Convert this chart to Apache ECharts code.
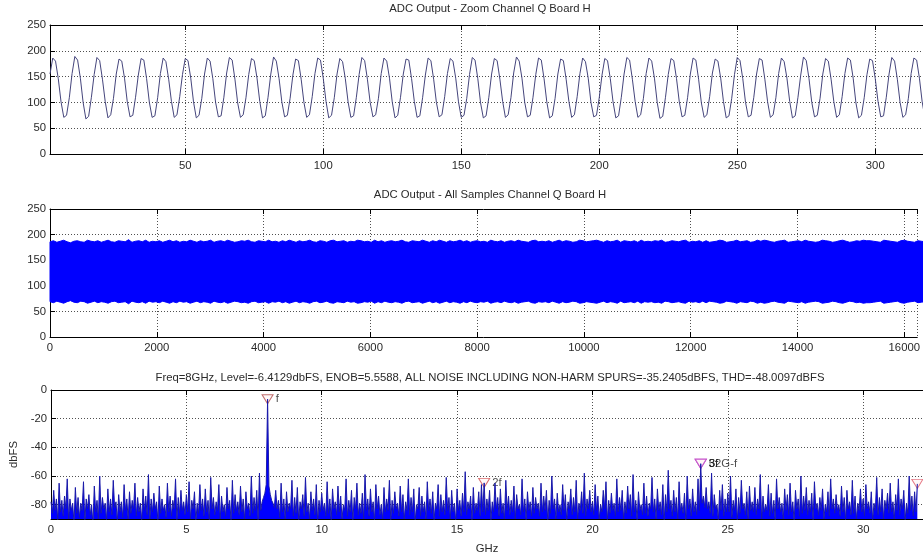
<!DOCTYPE html>
<html>
<head>
<meta charset="utf-8">
<script src="https://cdn.jsdelivr.net/npm/echarts@6/dist/echarts.min.js"></script>
<style>
  html, body { margin: 0; padding: 0; background: #fff; }
  #chart { width: 923px; height: 557px; }
</style>
</head>
<body>
<div id="chart"></div>
<script>
// ---- Zoomed time trace: samples 1..320 of channel Q ----
const zoomSamples = [
  155,186,180,146,101,71,75,109, 156,189,182,147,100,68,73,110,
  154,187,181,145,102,70,76,108, 155,184,180,147,101,72,75,110,
  153,185,182,146,100,71,74,109, 156,186,179,145,102,71,76,111,
  154,185,181,147,101,70,75,108, 155,186,180,146,100,72,74,110,
  157,187,182,145,99,71,76,109,  154,185,181,147,102,70,74,110,
  155,188,180,146,101,72,75,108, 153,184,181,145,100,71,76,111,
  156,186,182,147,102,70,75,109, 155,185,179,146,101,71,74,110,
  154,187,181,145,100,72,76,108, 156,186,180,147,101,70,75,110,
  155,184,182,146,102,71,74,109, 153,186,181,145,100,72,76,111,
  156,185,180,147,101,71,75,108, 154,187,182,146,99,70,74,110,
  155,185,181,145,102,71,76,109, 157,188,180,147,100,72,75,110,
  154,186,182,146,101,70,74,108, 155,184,181,145,102,71,76,111,
  156,186,179,147,100,72,75,109, 153,185,181,146,101,70,74,110,
  155,187,182,145,102,71,76,108, 156,186,180,147,100,69,73,110,
  154,185,181,146,101,72,75,109, 155,186,182,145,99,71,76,111,
  157,184,180,147,102,70,74,108, 154,187,181,146,100,72,75,110,
  155,185,182,145,101,71,76,109, 156,186,179,147,102,70,74,110,
  153,188,181,146,100,72,75,108, 155,185,180,145,101,71,76,111,
  156,186,182,147,99,70,75,109,  154,184,181,146,102,72,74,110,
  155,187,180,145,100,71,76,108, 156,186,182,147,101,70,75,110
];

// ---- All 16384 samples, as max/min envelope every 64 samples ----
const envelopeStep = 64;
const envelopeHigh = [
  186,188,185,187,189,186,184,187,188,186,185,189,187,186,188,185,
  187,189,186,185,188,187,186,190,185,187,188,186,189,185,187,186,
  188,185,187,189,186,188,185,187,186,189,187,185,188,186,187,189,
  185,187,188,186,189,187,185,186,188,187,189,186,185,188,187,186,
  189,186,187,185,188,186,189,187,185,188,186,187,189,186,185,188,
  187,185,188,189,186,187,188,185,187,186,189,188,186,187,185,189,
  186,188,185,187,188,186,187,189,186,185,188,187,186,189,187,185,
  188,186,189,187,185,188,186,187,189,186,188,185,187,188,186,187,
  185,189,187,186,188,185,187,188,186,189,187,186,185,188,189,186,
  187,186,188,185,187,189,186,188,187,185,186,189,188,186,187,188,
  189,187,185,188,186,187,189,185,188,187,186,188,185,189,186,187,
  186,188,187,189,185,186,188,187,186,188,189,185,187,186,188,185,
  188,185,186,187,189,188,185,186,187,189,186,187,188,185,186,189,
  187,189,188,186,185,187,188,189,185,186,187,188,186,189,187,186,
  185,186,189,188,187,185,186,188,189,187,185,186,188,187,189,188,
  188,187,186,185,189,188,187,186,185,188,189,187,186,185,188,187,
  186
];
const envelopeLow = [
  69,67,70,68,66,69,71,68,67,70,69,66,68,70,67,69,
  68,66,69,70,67,68,69,65,70,68,67,69,66,70,68,69,
  67,70,68,66,69,67,70,68,69,66,68,70,67,69,68,66,
  70,68,67,69,66,68,70,69,67,68,66,69,70,67,68,69,
  66,69,68,70,67,69,66,68,70,67,69,68,66,69,70,67,
  68,70,67,66,69,68,67,70,68,69,66,67,69,68,70,66,
  69,67,70,68,67,69,68,66,69,70,67,68,69,66,68,70,
  67,69,66,68,70,67,69,68,66,69,67,70,68,67,69,68,
  70,66,68,69,67,70,68,67,69,66,68,69,70,67,66,69,
  68,69,67,70,68,66,69,67,68,70,69,66,67,69,68,67,
  66,68,70,67,69,68,66,70,67,68,69,67,70,66,69,68,
  69,67,68,66,70,69,67,68,69,67,66,70,68,69,67,70,
  67,70,69,68,66,67,70,69,68,66,69,68,67,70,69,66,
  68,66,67,69,70,68,67,66,70,69,68,67,69,66,68,69,
  70,69,66,67,68,70,69,67,66,68,70,69,67,68,66,67,
  67,68,69,70,66,67,68,69,70,67,66,68,69,70,67,68,
  69
];

// ---- Spectrum, dBFS, 0.05 GHz bins from 0 to 32 GHz ----
const binGHz = 0.05;
const spectrumDb = [
  -78,-86,-70,-84,-76,-91,-65,-85,-77,-88,-74,-83,-62,-90,-76,-84,-79,-93,-68,-86,
  -75,-89,-79,-84,-64,-92,-76,-83,-73,-87,-80,-94,-67,-85,-77,-90,-60,-86,-75,-83,
  -79,-91,-69,-85,-76,-87,-63,-82,-78,-92,-73,-85,-78,-89,-66,-84,-76,-90,-71,-86,
  -77,-83,-65,-88,-75,-85,-79,-91,-69,-84,-74,-87,-59,-90,-76,-85,-72,-83,-78,-92,
  -67,-86,-76,-84,-80,-89,-65,-85,-74,-88,-77,-83,-62,-91,-75,-86,-70,-84,-78,-87,
  -73,-85,-64,-90,-77,-83,-71,-92,-79,-86,-66,-84,-76,-88,-69,-85,-77,-91,-61,-83,
  -75,-87,-78,-84,-66,-90,-74,-85,-80,-88,-68,-83,-77,-91,-63,-86,-73,-84,-78,-87,
  -67,-85,-76,-90,-71,-83,-79,-88,-60,-86,-75,-84,-70,-91,-58,-84,-78,-75,-72,-66,
  -6.4129,-67,-73,-77,-79,-82,-70,-83,-77,-89,-65,-85,-76,-90,-71,-85,-79,-83,-63,-88,
  -75,-86,-68,-91,-78,-83,-73,-88,-61,-85,-79,-90,-71,-84,-76,-87,-66,-92,-77,-85,
  -72,-84,-79,-88,-64,-86,-76,-91,-69,-83,-78,-87,-67,-85,-74,-90,-80,-84,-62,-88,
  -77,-85,-70,-92,-75,-83,-65,-87,-79,-86,-72,-90,-59,-84,-76,-88,-69,-85,-78,-91,
  -66,-83,-74,-87,-80,-90,-68,-85,-76,-84,-63,-91,-77,-86,-71,-83,-79,-88,-67,-85,
  -73,-90,-78,-84,-62,-87,-75,-85,-69,-92,-80,-83,-68,-88,-74,-85,-78,-90,-64,-84,
  -76,-86,-71,-91,-79,-83,-66,-88,-73,-85,-77,-87,-61,-84,-75,-90,-70,-85,-79,-92,
  -69,-84,-77,-88,-72,-85,-57,-87,-78,-83,-74,-91,-68,-86,-79,-84,-71,-88,-66,-85,
  -64.8,-87,-76,-84,-70,-91,-78,-85,-65,-83,-75,-88,-69,-86,-79,-90,-63,-84,-74,-87,
  -77,-85,-67,-90,-73,-83,-80,-87,-62,-85,-76,-91,-71,-84,-78,-88,-68,-86,-75,-83,
  -79,-88,-65,-85,-74,-84,-70,-92,-77,-86,-60,-83,-76,-90,-72,-85,-80,-87,-66,-84,
  -73,-91,-78,-83,-69,-87,-75,-85,-63,-90,-79,-84,-71,-86,-58,-88,-76,-83,-70,-85,
  -78,-87,-66,-84,-74,-90,-80,-85,-70,-83,-64,-91,-77,-86,-72,-84,-79,-88,-62,-85,
  -75,-84,-70,-90,-78,-86,-67,-83,-73,-88,-59,-85,-77,-91,-71,-84,-80,-87,-65,-86,
  -74,-88,-79,-83,-61,-85,-76,-90,-69,-84,-78,-87,-66,-91,-73,-85,-56,-83,-77,-88,
  -70,-85,-75,-90,-64,-84,-79,-86,-72,-92,-60,-83,-76,-88,-69,-85,-78,-87,-62,-84,
  -51.4,-79,-74,-82,-68,-83,-78,-86,-58,-88,-73,-83,-80,-91,-70,-84,-66,-88,-76,-85,
  -72,-85,-60,-89,-77,-84,-69,-91,-75,-86,-63,-83,-79,-87,-71,-90,-67,-84,-78,-85,
  -68,-87,-76,-83,-59,-90,-74,-85,-80,-84,-66,-88,-72,-86,-77,-91,-62,-83,-75,-85,
  -79,-90,-69,-84,-73,-87,-65,-85,-78,-92,-70,-83,-76,-88,-60,-86,-74,-84,-68,-87,
  -77,-85,-72,-91,-64,-83,-79,-87,-75,-84,-69,-90,-80,-85,-71,-88,-62,-83,-76,-86,
  -73,-84,-80,-88,-67,-85,-75,-91,-70,-83,-78,-87,-63,-86,-74,-90,-79,-84,-69,-85,
  -76,-88,-66,-83,-78,-86,-71,-91,-79,-84,-61,-87,-75,-85,-69,-90,-77,-83,-72,-86,
  -65,-85,-78,-90,-73,-84,-62,-87,-76,-83,-70,-91,-79,-86,-60,-84,-74,-88,-71,-85,
  -65.5
];

// ---- Harmonic / spur markers ----
const spurLabels = ['f', '2f', '3f', '5f', '32G-f', '4f'];
const spurGHz    = [8, 16, 24, 24, 24, 32];
const spurDb     = [-6.4129, -64.8, -51.4, -51.4, -51.4, -65.5];
const spurColors = ['#b04a4a', '#d04848', '#c048c8', '#c048c8', '#c048c8', '#e05a6a'];

// ---- Panel titles ----
const titles = [
  'ADC Output - Zoom Channel Q Board H',
  'ADC Output - All Samples Channel Q Board H',
  'Freq=8GHz, Level=-6.4129dbFS, ENOB=5.5588, ALL NOISE INCLUDING NON-HARM SPURS=-35.2405dBFS, THD=-48.0097dBFS'
];

const FONT = '"Liberation Sans", Arial, sans-serif';
const FS = 11.3;
const TXT = '#2a2a2a';
const GRIDLINE = { show: true, lineStyle: { color: '#505050', width: 1, type: [1, 2] } };
const plainNumber = v => String(v);

// plot boxes run on past the right edge of the page; the axes are cut there
const grids = [
  { left: 50, top: 25,  width: 873, height: 129 },
  { left: 50, top: 209, width: 873, height: 128 },
  { left: 50, top: 390, width: 873, height: 129 }
];

function labelStyle(extra) {
  return Object.assign({ color: TXT, fontFamily: FONT, fontSize: FS, formatter: plainNumber }, extra);
}
function bottomX(gi, extra) {
  return Object.assign({
    type: 'value', gridIndex: gi, position: 'bottom',
    axisLine: { show: true, onZero: false, lineStyle: { color: '#000', width: 1 } },
    axisTick: { show: true, inside: true, length: 5, lineStyle: { color: '#000' } },
    axisLabel: labelStyle({ margin: 5, showMaxLabel: false }),
    splitLine: GRIDLINE
  }, extra);
}
function topX(gi, extra) {
  return Object.assign({
    type: 'value', gridIndex: gi, position: 'top',
    axisLine: { show: true, onZero: false, lineStyle: { color: '#000', width: 1 } },
    axisTick: { show: true, inside: true, length: 5, lineStyle: { color: '#000' } },
    axisLabel: { show: false },
    splitLine: { show: false }
  }, extra);
}
function leftY(gi, extra) {
  return Object.assign({
    type: 'value', gridIndex: gi, position: 'left',
    axisLine: { show: true, onZero: false, lineStyle: { color: '#000', width: 1 } },
    axisTick: { show: true, inside: true, length: 5, lineStyle: { color: '#000' } },
    axisLabel: labelStyle({ margin: 4 }),
    splitLine: GRIDLINE
  }, extra);
}

const chart = echarts.init(document.getElementById('chart'), null, { renderer: 'canvas' });

chart.setOption({
  animation: false,
  backgroundColor: '#fff',
  title: [
    { text: titles[0], left: 490, top: 3,   textAlign: 'center' },
    { text: titles[1], left: 490, top: 189, textAlign: 'center' },
    { text: titles[2], left: 490, top: 372, textAlign: 'center' }
  ].map(t => Object.assign(t, { padding: 0, textStyle: { fontFamily: FONT, fontSize: FS, fontWeight: 'normal', color: TXT } })),
  grid: grids,
  xAxis: [
    bottomX(0, { min: 1, max: 317.3, splitNumber: 6,
                 axisLabel: labelStyle({ margin: 6, showMinLabel: false, showMaxLabel: false }) }),
    bottomX(1, { min: 0, max: 16242, interval: 2000 }),
    bottomX(2, { min: 0, max: 32.21, interval: 5, name: 'GHz', nameLocation: 'middle', nameGap: 24,
                 nameTextStyle: { color: TXT, fontFamily: FONT, fontSize: FS } }),
    topX(0, { min: 1, max: 317.3, splitNumber: 6 }),
    topX(1, { min: 0, max: 16242, interval: 2000 }),
    topX(2, { min: 0, max: 32.21, interval: 5 })
  ],
  yAxis: [
    leftY(0, { min: 0, max: 250, interval: 50 }),
    leftY(1, { min: 0, max: 250, interval: 50 }),
    leftY(2, { min: -90, max: 0, splitNumber: 5, name: 'dbFS', nameLocation: 'middle', nameGap: 32, nameRotate: 90,
               nameTextStyle: { color: TXT, fontFamily: FONT, fontSize: FS },
               axisLabel: labelStyle({ margin: 4, showMinLabel: false }) })
  ],
  series: [
    {
      type: 'line', xAxisIndex: 0, yAxisIndex: 0, symbol: 'none',
      lineStyle: { color: '#45457c', width: 1 },
      data: zoomSamples.map((v, i) => [i + 1, v])
    },
    {
      // every sample drawn: the band between the running max and min
      type: 'custom', xAxisIndex: 1, yAxisIndex: 1,
      encode: { x: 0, y: [1, 2] },
      data: envelopeHigh.map((v, i) => [i * envelopeStep, envelopeLow[i], v]),
      renderItem: (params, api) => {
        if (params.dataIndex !== 0) return null;
        const upper = envelopeHigh.map((v, i) => api.coord([i * envelopeStep, v]));
        const lower = envelopeLow.map((v, i) => api.coord([i * envelopeStep, v])).reverse();
        return {
          type: 'polygon',
          shape: { points: upper.concat(lower) },
          style: { fill: '#0000ff', stroke: '#0000ff', lineWidth: 1 }
        };
      }
    },
    {
      type: 'line', xAxisIndex: 2, yAxisIndex: 2, symbol: 'none',
      lineStyle: { color: '#1a1aa8', width: 1 },
      areaStyle: { color: '#0000ff', opacity: 1, origin: 'start' },
      data: spectrumDb.map((v, i) => [+(i * binGHz).toFixed(2), v])
    },
    {
      type: 'scatter', xAxisIndex: 2, yAxisIndex: 2,
      symbol: 'triangle', symbolRotate: 180, symbolSize: [11, 9],
      label: {
        show: true, position: 'right', distance: 2,
        formatter: p => p.name, color: '#222', fontFamily: FONT, fontSize: FS
      },
      data: spurLabels.map((n, i) => ({
        name: n, value: [spurGHz[i], spurDb[i]],
        itemStyle: { color: '#fff6f6', borderColor: spurColors[i], borderWidth: 1 }
      }))
    }
  ]
});
</script>
</body>
</html>
